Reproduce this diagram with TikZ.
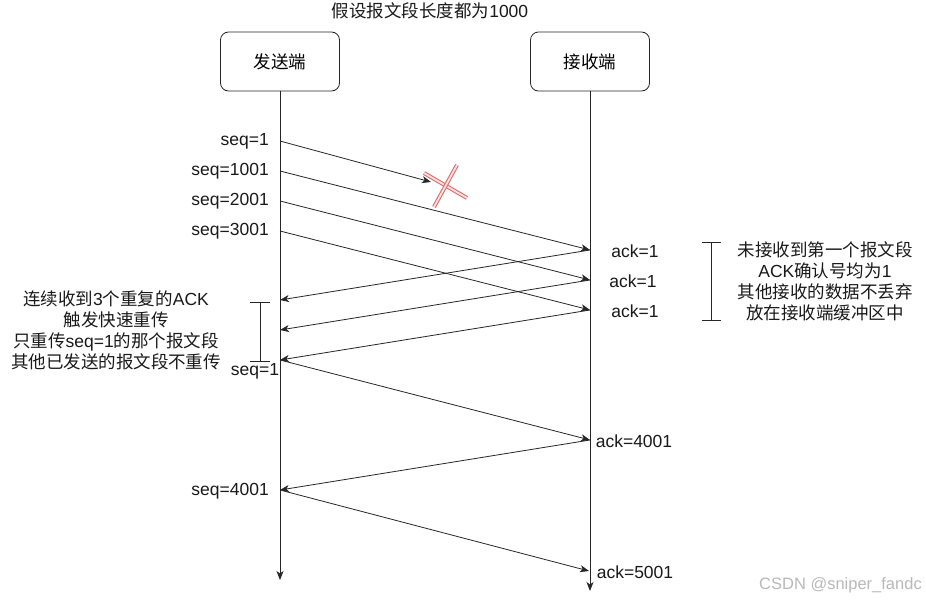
\documentclass[tikz,border=0pt]{standalone}
\usepackage{fontspec}
\setmainfont{Liberation Sans}
\newfontfamily\cjk{Noto Sans CJK SC}
\usetikzlibrary{arrows.meta}
\definecolor{xred}{RGB}{222,110,110}
\definecolor{xpink}{RGB}{250,225,225}
\begin{document}
\begin{tikzpicture}[x=1pt,y=-1pt,
  font=\fontsize{17.5}{21}\selectfont,
  box/.style={draw=black!85, rounded corners=8pt, minimum width=119pt, minimum height=59pt, line width=0.8pt, inner sep=0pt},
  life/.style={draw=black!85, line width=0.8pt, -{Stealth[length=9pt,width=7pt,inset=2.5pt]}},
  msg/.style={draw=black!85, line width=0.8pt, -{Stealth[length=9pt,width=7pt,inset=2.5pt]}},
  lbl/.style={inner sep=0pt, text=black!90},
  txt/.style={align=center, inner sep=0pt, text=black!90},
  brk/.style={draw=black!85, line width=0.8pt},
  cross/.style={draw=xred, line width=1.1pt, double=xpink, double distance=1.8pt}
]
\useasboundingbox (0,0) rectangle (926,600);

\node[lbl] (title) at (430,11) {{\cjk 假设报文段长度都为}1000};
\node[box] (snd) at (280,61.5) {{\cjk 发送端}};
\node[box] (rcv) at (590,61.5) {{\cjk 接收端}};

\coordinate (sEnd) at (280,580);
\coordinate (rEnd) at (590,591);
\draw[life] (snd.south) -- (sEnd);
\draw[life] (rcv.south) -- (rEnd);

% points on lifelines
\coordinate (s1) at (280,141);
\coordinate (s2) at (280,171);
\coordinate (s3) at (280,201);
\coordinate (s4) at (280,231);
\coordinate (lost) at (431,182);
\coordinate (r1) at (590,250);
\coordinate (r2) at (590,280);
\coordinate (r3) at (590,310);
\coordinate (sA) at (280,300);
\coordinate (sB) at (280,330);
\coordinate (sC) at (280,360);
\coordinate (r4) at (590,440);
\coordinate (s5) at (280,490);
\coordinate (r5) at (589,571);

\draw[msg] (s1) -- (lost);
\draw[msg] (s2) -- (r1);
\draw[msg] (s3) -- (r2);
\draw[msg] (s4) -- (r3);
\draw[msg] (r1) -- (sA);
\draw[msg] (r2) -- (sB);
\draw[msg] (r3) -- (sC);
\draw[msg] (sC) -- (r4);
\draw[msg] (r4) -- (s5);
\draw[msg] (s5) -- (r5);

% red cross
\coordinate (xa1) at (424,173);
\coordinate (xa2) at (467,198);
\coordinate (xb1) at (457,165);
\coordinate (xb2) at (434,207);
\draw[cross] (xa1) -- (xa2);
\draw[cross] (xb1) -- (xb2);

% labels
\node[lbl, anchor=east] (l1) at (269,141) {seq=1};
\node[lbl, anchor=east] (l2) at (269,171) {seq=1001};
\node[lbl, anchor=east] (l3) at (269,201) {seq=2001};
\node[lbl, anchor=east] (l4) at (269,231) {seq=3001};
\node[lbl] (l5) at (255,371) {seq=1};
\node[lbl, anchor=east] (l6) at (269,491) {seq=4001};
\node[lbl] (a1) at (635,251) {ack=1};
\node[lbl] (a2) at (633,281) {ack=1};
\node[lbl] (a3) at (635,311) {ack=1};
\node[lbl] (a4) at (634,441) {ack=4001};
\node[lbl] (a5) at (635,572) {ack=5001};

% right bracket
\coordinate (rbT) at (711,242);
\coordinate (rbB) at (711,320);
\coordinate (rbT1) at (702,242);
\coordinate (rbT2) at (721,242);
\coordinate (rbB1) at (702,320);
\coordinate (rbB2) at (721,320);
\draw[brk] (rbT) -- (rbB);
\draw[brk] (rbT1) -- (rbT2);
\draw[brk] (rbB1) -- (rbB2);
\node[txt] (rnote) at (825,281) {{\cjk 未接收到第一个报文段}\\ACK{\cjk 确认号均为}1\\{\cjk 其他接收的数据不丢弃}\\{\cjk 放在接收端缓冲区中}};

% left bracket
\coordinate (lbT) at (260,302);
\coordinate (lbB) at (260,361);
\coordinate (lbT1) at (250,302);
\coordinate (lbT2) at (270,302);
\coordinate (lbB1) at (250,361);
\coordinate (lbB2) at (270,361);
\draw[brk] (lbT) -- (lbB);
\draw[brk] (lbT1) -- (lbT2);
\draw[brk] (lbB1) -- (lbB2);
\node[txt] (lnote) at (116,330) {{\cjk 连续收到}3{\cjk 个重复的}ACK\\{\cjk 触发快速重传}\\{\cjk 只重传}seq=1{\cjk 的那个报文段}\\{\cjk 其他已发送的报文段不重传}};

\node[lbl, anchor=east, text=black!28, font=\fontsize{16.5}{18}\selectfont] (wm) at (922,585) {CSDN @sniper\_fandc};
\end{tikzpicture}
\end{document}
